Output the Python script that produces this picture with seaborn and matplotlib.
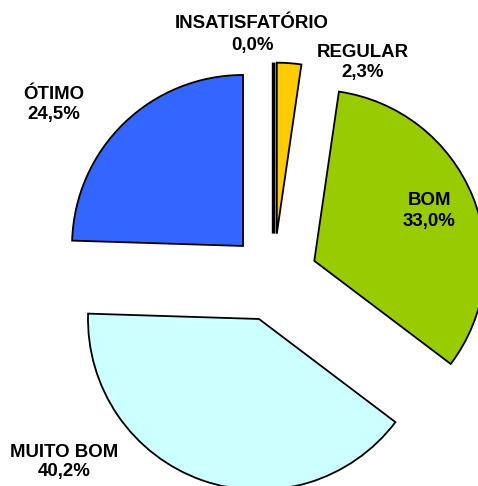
import matplotlib
matplotlib.use("Agg")
import matplotlib.pyplot as plt
import seaborn as sns

categories = ["INSATISFATÓRIO", "REGULAR", "BOM", "MUITO BOM", "ÓTIMO"]
values = [0.0, 2.3, 33.0, 40.2, 24.5]
pct_labels = ["0,0%", "2,3%", "33,0%", "40,2%", "24,5%"]
colors = ["#000080", "#FFCC00", "#99CC00", "#CCFFFF", "#3366FF"]
# label anchor positions (data units, pie radius = 1)
label_x = [-0.126, 0.520, 0.909, -1.226, -1.287]
name_y = [1.460, 1.290, 0.425, -1.049, 1.045]
pct_y = [1.331, 1.173, 0.302, -1.160, 0.928]

sns.set_theme(style="white")
plt.rcParams["font.family"] = ["Liberation Sans", "DejaVu Sans"]

fig = plt.figure(figsize=(4.78, 4.86), dpi=100)
ax = fig.add_axes([0, 0, 1, 1])
wedges, _ = ax.pie(values, colors=colors, startangle=90, counterclock=False,
                   explode=[0.257] * len(values), radius=1.0,
                   wedgeprops=dict(edgecolor="black", linewidth=1.3))
wedges[0].set_linewidth(2.6)
for cat, p, x, y1, y2 in zip(categories, pct_labels, label_x, name_y, pct_y):
    ax.text(x, y1, cat, ha="center", va="baseline", fontsize=13.4,
            fontweight="bold", color="black")
    ax.text(x, y2, p, ha="center", va="baseline", fontsize=13.4,
            fontweight="bold", color="black")
ax.set_xlim(-1.6, 1.195)
ax.set_ylim(-1.219, 1.623)
ax.set_aspect("equal", adjustable="box")
ax.axis("off")
fig.savefig("out.png", dpi=100, facecolor="white")
